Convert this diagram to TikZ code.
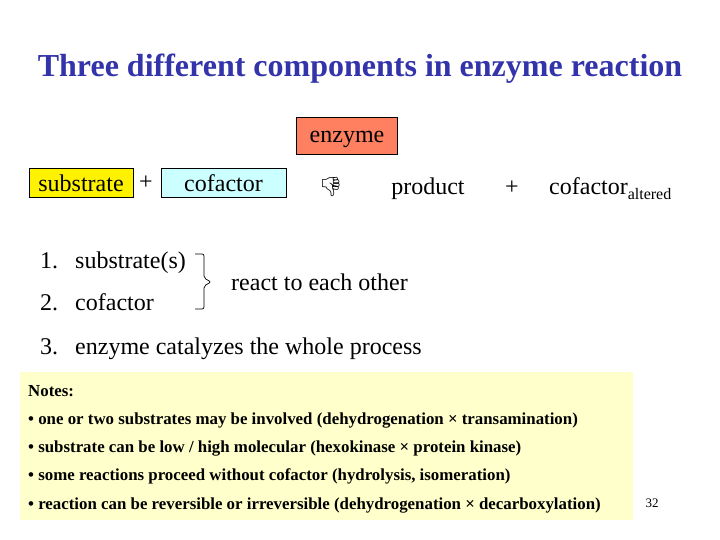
\documentclass[tikz,border=0pt]{standalone}
\usepackage{fontspec}
\setmainfont{Liberation Serif}
\newfontfamily\emojifont{Noto Emoji}
\usepackage{tikz}
\usetikzlibrary{positioning}
\definecolor{titleblue}{RGB}{51,51,170}
\definecolor{enzymered}{RGB}{255,128,96}
\definecolor{cofactorcyan}{RGB}{204,255,255}
\definecolor{notesyellow}{RGB}{255,255,204}

\begin{document}
\begin{tikzpicture}[
                    x=1pt,y=-1pt,
                    compbox/.style={
                        rectangle,
                        draw=black,
                        line width=0.8pt,
                        inner sep=0pt,
                        text height=18pt,
                        text depth=3pt,
                        font=\fontsize{24}{28}\selectfont
                    },
                    plain/.style={
                        inner sep=0pt,
                        font=\fontsize{24}{28}\selectfont
                    },
                    listitem/.style={
                        plain,
                        anchor=base west
                    },
                    noteline/.style={
                        inner sep=0pt,
                        anchor=base west,
                        font=\fontsize{16.85}{20}\selectfont\bfseries
                    }
                ]
                \useasboundingbox[fill=white] (0,0) rectangle (720,540);
                \newcommand{\mkitem}[3]{
                    \node (num#1) [listitem] at (40,#3) {#1.};
                    \node (item#1) [listitem] at (75,#3) {#2};
                }

                \node (title) [font=\fontsize{32}{38}\selectfont\bfseries, text=titleblue,
                    inner sep=0pt, anchor=base] at (360,77)
                    {Three different components in enzyme reaction};

                % reaction line
                \node (enzyme) [compbox, fill=enzymered, minimum width=101, minimum height=37]
                    at (347,135.5) {enzyme};
                \node (substrate) [compbox, fill=yellow, text height=21pt,
                    minimum width=104, minimum height=29] at (81,182.5) {substrate};
                \node (plusA) [plain] at (146,183) {+};
                \node (cofactor) [compbox, fill=cofactorcyan, text height=21pt,
                    minimum width=125, minimum height=29] at (223.5,182.5) {cofactor};
                \node (hand) [inner sep=0pt, font=\emojifont\fontsize{19}{22}\selectfont]
                    at (331,187) {👎};
                \node (product) [plain, anchor=base] at (428,195) {product};
                \node (plusB) [plain, anchor=base] at (512,195) {+};
                \node (cofalt) [plain, anchor=base west] at (549,195)
                    {cofactor\raisebox{-5pt}{\fontsize{16}{18}\selectfont altered}};

                % list
                \mkitem{1}{substrate(s)}{268}
                \mkitem{2}{cofactor}{310}
                \mkitem{3}{enzyme catalyzes the whole process}{354}
                \coordinate (braceTop) at (195,254);
                \draw[line width=0.7pt, rounded corners=2pt] (braceTop)
                    -- ++(9,0) -- ++(0,24) -- ++(7,4) coordinate (braceTip)
                    -- ++(-7,4) -- ++(0,23) -- ++(-9,0) coordinate (braceBot);
                \node (react) [listitem] at (231,290) {react to each other};

                % notes
                \node (notes) [fill=notesyellow, minimum width=613, minimum height=148,
                    inner sep=0pt, anchor=north west] at (20,372) {};
                \foreach \txt [count=\i from 0] in {
                    Notes:,
                    • one or two substrates may be involved (dehydrogenation × transamination),
                    • substrate can be low / high molecular (hexokinase × protein kinase),
                    {• some reactions proceed without cofactor (hydrolysis, isomeration)},
                    • reaction can be reversible or irreversible (dehydrogenation × decarboxylation)
                }{
                    \node (note\i) [noteline] at (28,396+28.3*\i) {\txt};
                }

                \node (page) [inner sep=0pt, font=\fontsize{13}{15}\selectfont] at (652,503) {32};
            \end{tikzpicture}
\end{document}
